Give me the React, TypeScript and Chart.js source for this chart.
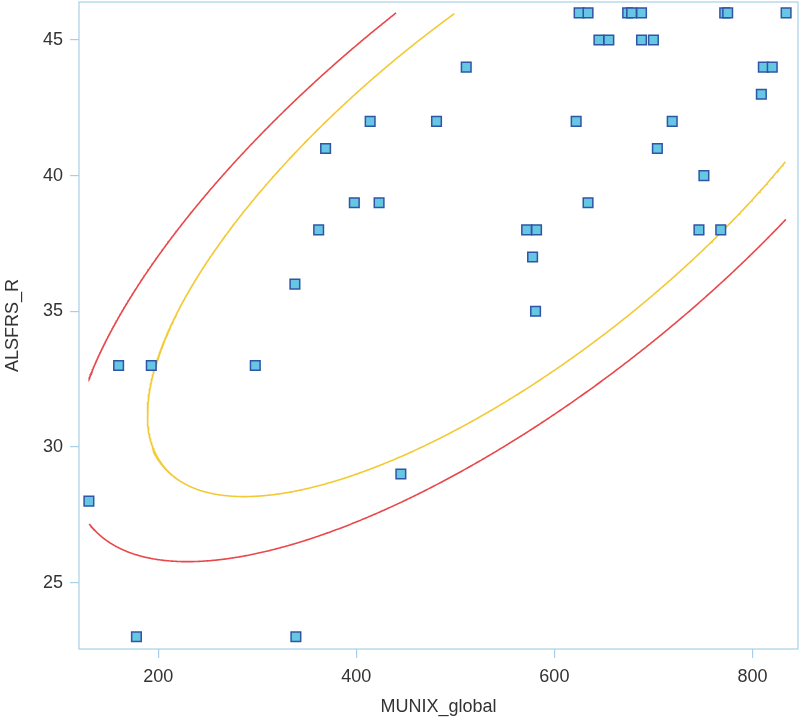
import React, { useEffect, useRef } from "react";
import { Chart, registerables } from "chart.js";

Chart.register(...registerables);

// Observations: MUNIX_global (x) and ALSFRS_R (y)
const munixGlobal = [
  130, 160, 193, 298, 178, 339, 445, 338, 362, 369, 398, 423, 414, 511, 481,
  622, 719, 704, 751, 634, 572, 582, 578, 581, 746, 768, 809, 811, 820, 645,
  655, 688, 700, 625, 634, 674, 678, 688, 772, 775, 834,
];
const alsfrsR = [
  28, 33, 33, 33, 23, 23, 29, 36, 38, 41, 39, 39, 42, 44, 42,
  42, 42, 41, 40, 39, 38, 38, 37, 35, 38, 38, 43, 44, 44, 45,
  45, 45, 45, 46, 46, 46, 46, 46, 46, 46, 46,
];

const xTicks = [200, 400, 600, 800];
const yTicks = [25, 30, 35, 40, 45];
const xRange = [120, 846];
const yRange = [22.55, 46.4];

// Prediction-ellipse confidence levels
const ellipseLevels = [0.9, 0.8];
const ellipseColors = ["#e8484b", "#f3c935"];

function predictionEllipse(xs: number[], ys: number[], level: number) {
  const n = xs.length;
  const mx = xs.reduce((a, b) => a + b, 0) / n;
  const my = ys.reduce((a, b) => a + b, 0) / n;
  let sxx = 0, syy = 0, sxy = 0;
  for (let i = 0; i < n; i++) {
    sxx += (xs[i] - mx) ** 2;
    syy += (ys[i] - my) ** 2;
    sxy += (xs[i] - mx) * (ys[i] - my);
  }
  sxx /= n - 1; syy /= n - 1; sxy /= n - 1;
  const l11 = Math.sqrt(sxx);
  const l21 = sxy / l11;
  const l22 = Math.sqrt(syy - l21 * l21);
  const m = n - 2;
  const F = (m / 2) * (Math.pow(1 - level, -2 / m) - 1);
  const r = Math.sqrt(((2 * (n - 1) * (n + 1)) / (n * m)) * F);
  const xmin = Math.min(...xs), xmax = Math.max(...xs);
  const ymin = Math.min(...ys), ymax = Math.max(...ys);
  const pts: { x: number; y: number | null }[] = [];
  const N = 2000;
  for (let k = 0; k <= N; k++) {
    const t = (2 * Math.PI * k) / N;
    const x = mx + r * l11 * Math.cos(t);
    const y = my + r * (l21 * Math.cos(t) + l22 * Math.sin(t));
    if (x < xmin || x > xmax || y < ymin || y > ymax) pts.push({ x, y: null });
    else pts.push({ x, y });
  }
  return pts;
}

const AXIS_COLOR = "#a9cfe6";
const TEXT_COLOR = "#333333";
const FONT = "'Liberation Sans', Arial, sans-serif";

const frame = {
  id: "frame",
  afterDatasetsDraw(chart: any) {
    const { ctx, chartArea } = chart;
    ctx.save();
    ctx.strokeStyle = AXIS_COLOR;
    ctx.lineWidth = 1.2;
    ctx.strokeRect(chartArea.left, chartArea.top, chartArea.right - chartArea.left, chartArea.bottom - chartArea.top);
    ctx.restore();
  },
};

function zeroPad(axis: any) {
  axis.paddingTop = 0;
  axis.paddingBottom = 0;
  axis.paddingLeft = 0;
  axis.paddingRight = 0;
}

export default function App() {
  const ref = useRef<HTMLCanvasElement | null>(null);
  useEffect(() => {
    document.body.style.margin = "0";
    const ctx = ref.current!.getContext("2d")!;
    const ellipseSets = ellipseLevels.map((lv, i) => ({
      type: "line" as const,
      data: predictionEllipse(munixGlobal, alsfrsR, lv),
      borderColor: ellipseColors[i],
      borderWidth: 1.6,
      pointRadius: 0,
      spanGaps: false,
      fill: false,
      tension: 0,
      order: 2,
    }));
    const chart = new Chart(ctx, {
      type: "scatter",
      data: {
        datasets: [
          ...ellipseSets,
          {
            type: "scatter" as const,
            data: munixGlobal.map((x, i) => ({ x, y: alsfrsR[i] })),
            pointStyle: "rect",
            pointRadius: 6.8,
            pointBackgroundColor: "#66c7e4",
            pointBorderColor: "#2f55a4",
            pointBorderWidth: 1.5,
            order: 1,
          } as any,
        ],
      },
      options: {
        animation: false,
        responsive: false,
        maintainAspectRatio: false,
        layout: { autoPadding: false, padding: { top: 2, right: 2, left: 0, bottom: 0 } },
        plugins: { legend: { display: false }, tooltip: { enabled: false } },
        scales: {
          x: {
            type: "linear",
            min: xRange[0],
            max: xRange[1],
            afterBuildTicks: (axis: any) => {
              axis.ticks = xTicks.map((v) => ({ value: v }));
            },
            afterFit: (axis: any) => {
              axis.height = 70;
              zeroPad(axis);
            },
            grid: { display: true, drawOnChartArea: false, drawTicks: true, tickLength: 9, color: AXIS_COLOR, lineWidth: 1.2 },
            border: { display: false },
            ticks: { color: TEXT_COLOR, font: { size: 18, family: FONT }, padding: 8, maxRotation: 0 },
            title: { display: true, text: "MUNIX_global", color: TEXT_COLOR, font: { size: 18, family: FONT }, padding: { top: 0, bottom: 1 } },
          },
          y: {
            type: "linear",
            min: yRange[0],
            max: yRange[1],
            afterBuildTicks: (axis: any) => {
              axis.ticks = yTicks.map((v) => ({ value: v }));
            },
            afterFit: (axis: any) => {
              axis.width = 79;
              zeroPad(axis);
            },
            grid: { display: true, drawOnChartArea: false, drawTicks: true, tickLength: 9, color: AXIS_COLOR, lineWidth: 1.2 },
            border: { display: false },
            ticks: { color: TEXT_COLOR, font: { size: 18, family: FONT }, padding: 7 },
            title: { display: true, text: "ALSFRS_R", color: TEXT_COLOR, font: { size: 18, family: FONT }, padding: { top: 2, bottom: 0 } },
          },
        },
      },
      plugins: [frame],
    });
    return () => chart.destroy();
  }, []);
  return <canvas ref={ref} width={800} height={719} style={{ display: "block", width: 800, height: 719 }} />;
}
